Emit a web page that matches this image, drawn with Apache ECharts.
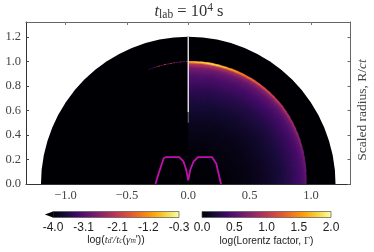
<!DOCTYPE html>
<html><head><meta charset="utf-8">
<style>html,body{margin:0;padding:0;background:#fff}#c{width:374px;height:252px}</style>
<script src="https://cdn.jsdelivr.net/npm/echarts@6/dist/echarts.min.js"></script>
</head><body><div id="c"></div>
<script>
const xTicks=[-1,-0.5,0,0.5,1];
const yTicks=[0,0.2,0.4,0.6,0.8,1.0,1.2];
const axisLimit=1.322;
const discRadius=1.2;
const radialFractions=[0,0.3,0.5,0.65,0.78,0.88,0.94,0.975,0.99,1];
const wedgeAngles=[0,3,6,9,12,15,18,21,24,27,30,33,36,39,42,45,48,51,54,57,60,63,66,69,72,75,78,81,84,87,90];
const shockRadius=[0.965,0.967,0.97,0.972,0.975,0.978,0.98,0.983,0.986,0.989,0.992,0.995,0.997,1.0,1.0,1.002,1.003,1.004,1.005,1.005,1.005,1.005,1.005,1.005,1.005,1.005,1.005,1.005,1.004,1.003,1.002];
const logGamma=[
[0,.02,.06,.12,.21,.32,.40,.47,.56,.48],[0,.02,.06,.12,.21,.32,.40,.48,.57,.49],
[0,.02,.06,.12,.21,.32,.41,.49,.59,.51],[0,.02,.06,.13,.21,.33,.41,.50,.61,.53],
[0,.02,.06,.13,.22,.33,.42,.51,.63,.55],[0,.02,.06,.13,.22,.34,.42,.53,.66,.58],
[0,.02,.07,.13,.22,.34,.43,.54,.70,.62],[0,.03,.07,.14,.23,.35,.44,.56,.74,.66],
[0,.03,.07,.14,.23,.35,.45,.58,.78,.70],[0,.03,.07,.14,.24,.36,.46,.60,.82,.74],
[0,.03,.07,.14,.24,.37,.47,.62,.86,.78],[0,.03,.07,.14,.24,.37,.48,.64,.90,.82],
[0,.03,.07,.15,.25,.38,.49,.66,.94,.86],[0,.03,.08,.15,.25,.38,.50,.68,.98,.90],
[0,.03,.08,.15,.26,.39,.52,.70,1.03,.94],[0,.03,.08,.16,.26,.40,.53,.72,1.08,.98],
[0,.03,.08,.16,.27,.40,.54,.74,1.14,1.03],[0,.03,.09,.16,.27,.41,.55,.76,1.2,1.08],
[0,.03,.09,.17,.28,.42,.56,.78,1.27,1.12],[0,.03,.09,.17,.28,.42,.57,.80,1.34,1.17],
[0,.03,.09,.17,.29,.43,.58,.83,1.41,1.22],[0,.03,.09,.18,.29,.43,.59,.86,1.48,1.27],
[0,.03,.10,.18,.30,.44,.60,.89,1.56,1.32],[0,.03,.10,.18,.30,.45,.61,.92,1.64,1.38],
[0,.03,.10,.19,.31,.45,.62,.95,1.72,1.43],[0,.03,.10,.19,.31,.45,.63,.98,1.8,1.48],
[0,.03,.11,.20,.32,.46,.64,1.0,1.84,1.51],[0,.03,.11,.20,.32,.47,.65,1.0,1.8,1.48],
[0,.03,.11,.20,.32,.47,.65,1.0,1.72,1.43],[0,.03,.11,.20,.33,.47,.65,.98,1.62,1.38],
[0,.03,.11,.20,.33,.47,.65,.95,1.52,1.28]];
const coolingArcAngles=[90,91.5,93,94.5,96,97.5,99,100.5,102,103.5,105,106.5,108];
const coolingArcRadius=[0.998,0.997,0.996,0.995,0.994,0.993,0.992,0.991,0.99,0.989,0.988,0.987,0.986];
const coolingArcValues=[-2.6,-3.0,-2.4,-3.1,-2.3,-2.1,-2.9,-1.9,-2.8,-2.0,-2.9,-3.2,-3.4];
const contourX=[-0.267,-0.24,-0.2,-0.18,-0.073,-0.038,-0.016,0,0.016,0.043,0.079,0.193,0.229,0.24,0.267];
const contourY=[0,0.09,0.21,0.22,0.22,0.182,0.114,0.03,0.114,0.182,0.22,0.22,0.165,0.115,0];
const jetGapUpper=[[0,1.2],[0,0.585]];
const jetGapLower=[[0,0.585],[0,0.5]];
const leftBarTicks=[-4.0,-3.1,-2.1,-1.2,-0.3];
const rightBarTicks=[0,0.5,1,1.5,2];
const leftBarExtend=-4.24;

const inferno=['#000004','#160b39','#420a68','#6a176e','#932667','#bc3754','#dd513a','#f37819','#fca50a','#f6d746','#fcffa4'];
function hex(c){return [1,3,5].map(i=>parseInt(c.substr(i,2),16));}
function cmap(t){t=Math.max(0,Math.min(1,t))*10;const i=Math.min(9,Math.floor(t)),f=t-i,a=hex(inferno[i]),b=hex(inferno[i+1]);
 return 'rgb('+a.map((v,k)=>Math.round(v+(b[k]-v)*f)).join(',')+')';}
const rad=Math.PI/180;
const serif='"Liberation Serif","DejaVu Serif",serif';
const sans='"Liberation Sans",Arial,sans-serif';
const barStops=inferno.map((c,i)=>({offset:i/10,color:c}));

function discItem(p,api){const c=api.coord([0,0]),u=api.size([1,0])[0];
 return {type:'sector',shape:{cx:c[0],cy:c[1],r0:0,r:api.value(1)*u,startAngle:0,endAngle:-Math.PI,clockwise:false},style:{fill:'#000004'}};}
function wedgeItem(p,api){const i=p.dataIndex,a=api.value(0),rs=api.value(1),c=api.coord([0,0]),u=api.size([1,0])[0],R=rs*u;
 const a2=Math.min(90,a+3.3);
 return {type:'sector',shape:{cx:c[0],cy:c[1],r0:0,r:R,startAngle:-a*rad,endAngle:-a2*rad,clockwise:false},
  style:{fill:{type:'radial',x:c[0],y:c[1],r:R,global:true,colorStops:radialFractions.map((f,k)=>({offset:f,color:cmap(logGamma[i][k]/2)}))}}};}
function arcItem(p,api){const a=api.value(0),rs=api.value(1),c=api.coord([0,0]),u=api.size([1,0])[0];
 return {type:'sector',shape:{cx:c[0],cy:c[1],r0:rs*u-0.4,r:rs*u+0.4,startAngle:-a*rad,endAngle:-(a+1.2)*rad,clockwise:false},
  style:{fill:cmap((api.value(2)+4)/3.7)}};}
function barItem(p,api){const a=api.coord([api.value(0),0]),b=api.coord([api.value(1),1]);
 return {type:'rect',shape:{x:a[0],y:b[1],width:b[0]-a[0],height:a[1]-b[1]},
  style:{fill:{type:'linear',x:0,y:0,x2:1,y2:0,colorStops:barStops},stroke:'#555',lineWidth:0.7}};}
function triItem(p,api){const t=api.coord([api.value(0),0.5]),a=api.coord([api.value(1),0]),b=api.coord([api.value(1),1]);
 return {type:'polygon',shape:{points:[t,a,b]},style:{fill:'#000004'}};}

const frame={show:true,onZero:false,lineStyle:{color:'#333',width:1}};
const frameB={show:true,onZero:false,lineStyle:{color:'#666',width:1}};
const mainLabel={fontFamily:serif,fontSize:12.5,color:'#444'};
const barLabel={fontFamily:sans,fontSize:12,color:'#222',margin:4,showMinLabel:true,showMaxLabel:true,hideOverlap:false};
const option={animation:false,backgroundColor:'#fff',
 title:{left:184,top:-3,textAlign:'center',text:'{i|t}{s|lab}{n| = 10}{u|4}{n| s}',
  textStyle:{fontWeight:'normal',rich:{i:{fontFamily:serif,fontStyle:'italic',fontWeight:'normal',fontSize:16.5,color:'#333'},s:{fontFamily:serif,fontWeight:'normal',fontSize:11.5,color:'#333',padding:[6,0,0,0]},n:{fontFamily:serif,fontWeight:'normal',fontSize:16.5,color:'#333'},u:{fontFamily:serif,fontWeight:'normal',fontSize:11.5,color:'#333',padding:[0,0,7,0]}}}},
 grid:[{left:26,top:22,width:324.5,height:162,outerBoundsMode:'none'},{left:53,top:211.5,width:126,height:6,outerBoundsMode:'none'},{left:202,top:211.5,width:129,height:6,outerBoundsMode:'none'}],
 xAxis:[
  {gridIndex:0,type:'value',min:-axisLimit,max:axisLimit,position:'bottom',splitLine:{show:false},axisLine:frame,
   axisTick:{inside:true,length:3,customValues:xTicks,lineStyle:{color:'#444'}},
   axisLabel:{...mainLabel,margin:5,customValues:xTicks,formatter:v=>(v<0?'\u2212':'')+Math.abs(v).toFixed(1)}},
  {gridIndex:0,type:'value',min:-axisLimit,max:axisLimit,position:'top',splitLine:{show:false},axisLine:frameB,
   axisTick:{inside:true,length:3,customValues:xTicks,lineStyle:{color:'#777'}},axisLabel:{show:false}},
  {gridIndex:1,type:'value',min:-4,max:-0.3,position:'bottom',splitLine:{show:false},axisLine:{show:false},
   axisTick:{inside:true,length:5,customValues:leftBarTicks.slice(1,-1),lineStyle:{color:'#444',width:0.7}},
   axisLabel:{...barLabel,customValues:leftBarTicks,formatter:v=>v.toFixed(1)},
   name:"{n|log(}{i|t}{s|d'}{i|/t}{s|c}{n|(}{i|\u03b3}{s|m}{n|'))}",nameLocation:'middle',nameGap:17,
   nameTextStyle:{rich:{n:{fontFamily:sans,fontSize:10.5,color:'#222'},i:{fontFamily:serif,fontStyle:'italic',fontSize:11,color:'#333'},s:{fontFamily:serif,fontStyle:'italic',fontSize:7.5,color:'#333',padding:[3,0,0,0]}}}},
  {gridIndex:2,type:'value',min:0,max:2,position:'bottom',splitLine:{show:false},axisLine:{show:false},
   axisTick:{inside:true,length:5,customValues:rightBarTicks.slice(1,-1),lineStyle:{color:'#444',width:0.7}},
   axisLabel:{...barLabel,customValues:rightBarTicks,formatter:v=>v.toFixed(1)},
   name:'{n|log(Lorentz factor, }{g|\u0393}{n|)}',nameLocation:'middle',nameGap:18,
   nameTextStyle:{rich:{n:{fontFamily:sans,fontSize:10.2,color:'#222'},g:{fontFamily:serif,fontSize:10.5,color:'#333'}}}}
 ],
 yAxis:[
  {gridIndex:0,type:'value',min:0,max:axisLimit,position:'left',splitLine:{show:false},axisLine:frame,
   axisTick:{inside:true,length:3,customValues:yTicks,lineStyle:{color:'#444'}},
   axisLabel:{...mainLabel,margin:5,customValues:yTicks,formatter:v=>v.toFixed(1)}},
  {gridIndex:0,type:'value',min:0,max:axisLimit,position:'right',splitLine:{show:false},axisLine:frameB,
   axisTick:{inside:true,length:3,customValues:yTicks,lineStyle:{color:'#666'}},axisLabel:{show:false},
   name:'{n|Scaled radius, R/}{i|ct}',nameLocation:'middle',nameRotate:90,nameGap:5,nameTextStyle:{padding:[0,14,0,0],
   rich:{n:{fontFamily:serif,fontSize:13.5,color:'#444'},i:{fontFamily:serif,fontStyle:'italic',fontSize:13.5,color:'#444'}}}},
  {gridIndex:1,type:'value',min:0,max:1,show:false},
  {gridIndex:2,type:'value',min:0,max:1,show:false}
 ],
 series:[
  {type:'custom',xAxisIndex:0,yAxisIndex:0,z:1,clip:true,renderItem:discItem,data:[[0,discRadius]]},
  {type:'custom',xAxisIndex:0,yAxisIndex:0,z:2,clip:true,renderItem:wedgeItem,data:wedgeAngles.slice(0,-1).map((a,i)=>[a,shockRadius[i]])},
  {type:'custom',xAxisIndex:0,yAxisIndex:0,z:3,clip:true,renderItem:arcItem,data:coolingArcAngles.map((a,i)=>[a,coolingArcRadius[i],coolingArcValues[i]])},
  {type:'line',xAxisIndex:0,yAxisIndex:0,z:4,symbol:'none',data:jetGapUpper,lineStyle:{color:'#e4e4e4',width:1.4}},
  {type:'line',xAxisIndex:0,yAxisIndex:0,z:4,symbol:'none',data:jetGapLower,lineStyle:{color:'#777',width:1}},
  {type:'line',xAxisIndex:0,yAxisIndex:0,z:5,symbol:'none',data:contourX.map((x,i)=>[x,contourY[i]]),lineStyle:{color:'#c010b0',width:1.8}},
  {type:'custom',xAxisIndex:2,yAxisIndex:2,z:1,clip:false,renderItem:barItem,data:[[-4,-0.3]]},
  {type:'custom',xAxisIndex:2,yAxisIndex:2,z:1,clip:false,renderItem:triItem,data:[[leftBarExtend,-4]]},
  {type:'custom',xAxisIndex:3,yAxisIndex:3,z:1,clip:false,renderItem:barItem,data:[[0,2]]}
 ]};
echarts.init(document.getElementById('c'),null,{renderer:'canvas'}).setOption(option);
</script></body></html>
